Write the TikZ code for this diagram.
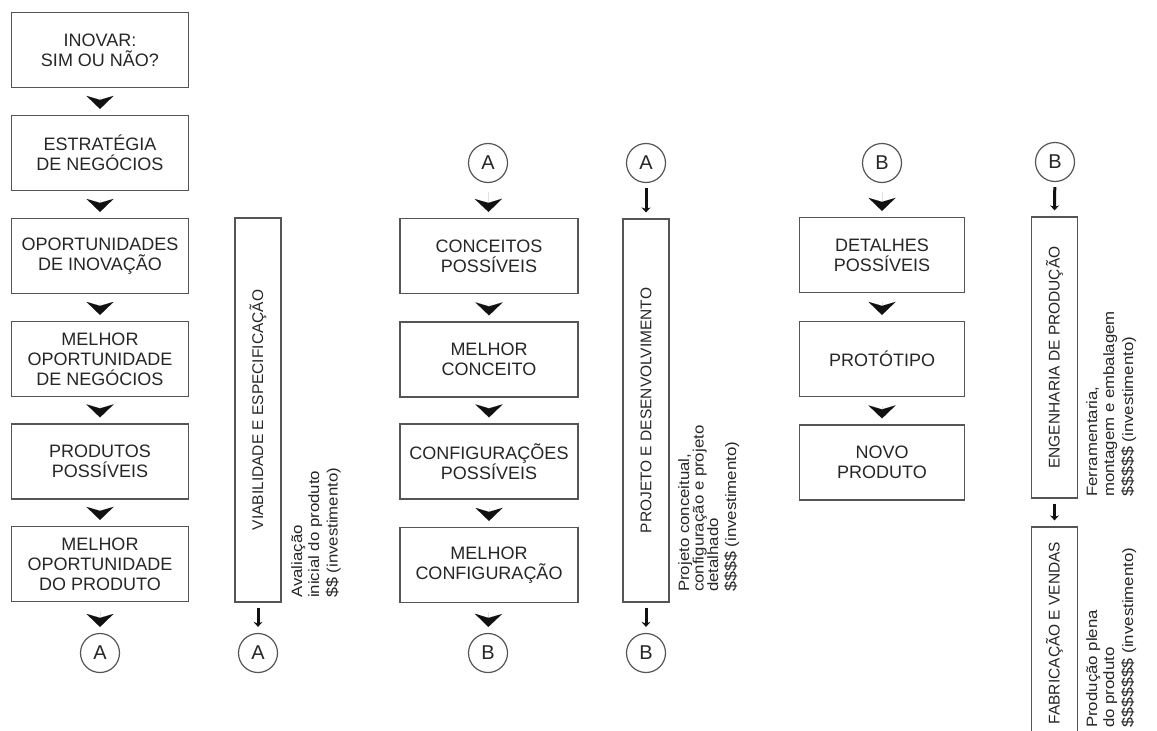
\documentclass[tikz,border=0pt]{standalone}
\usepackage{fontspec}
\setmainfont{Liberation Sans}
\newfontfamily\sidefont[FakeStretch=1.12]{Liberation Sans}
\usetikzlibrary{arrows.meta}
\definecolor{boxc}{HTML}{555555}
\definecolor{txt}{HTML}{262626}
\definecolor{arrc}{HTML}{111111}
\newcommand{\dol}[1]{{\fontsize{16}{15}\selectfont #1}}
\begin{document}
\begin{tikzpicture}[x=1pt,y=-1pt,
  box/.style={draw=boxc, line width=1.2pt, minimum height=75pt, align=center,
    font=\fontsize{18}{20}\selectfont, text=txt, inner sep=0pt},
  tallbox/.style={draw=boxc, line width=1.2pt, rotate=90, minimum height=46pt,
    font=\fontsize{15.5}{18}\selectfont, text=txt, inner sep=0pt},
  talltext/.style={rotate=90, font=\fontsize{15.5}{18}\selectfont, text=txt, inner sep=0pt},
  circ/.style={draw=boxc, line width=1.2pt, circle, minimum size=39pt, inner sep=0pt,
    font=\fontsize{20}{20}\selectfont, text=txt},
  side/.style={rotate=90, anchor=north west, align=left, inner sep=0pt,
    font=\sidefont\fontsize{15}{17}\selectfont, text=txt},
  sidetight/.style={side, font=\sidefont\fontsize{15}{14.5}\selectfont},
  chev/.style={draw=arrc, line width=0.01pt,
    -{Stealth[length=13pt,width=27pt,inset=4pt]}, shorten >=6pt, shorten <=9pt},
  smallarr/.style={draw=arrc, line width=3pt,
    -{Stealth[length=5pt,width=9pt]}, shorten >=6pt, shorten <=5pt}
]
\clip (0,0) rectangle (1157,731);
\fill[white] (0,0) rectangle (1157,731);

% ---------- column 1
\node[box, minimum width=177pt] (b1) at (100,50) {INOVAR:\\SIM OU NÃO?};
\node[box, minimum width=177pt] (b2) at (100,153) {ESTRATÉGIA\\DE NEGÓCIOS};
\node[box, minimum width=177pt] (b3) at (100,256) {OPORTUNIDADES\\DE INOVAÇÃO};
\node[box, minimum width=177pt] (b4) at (100,359) {MELHOR\\OPORTUNIDADE\\DE NEGÓCIOS};
\node[box, minimum width=177pt] (b5) at (100,461.5) {PRODUTOS\\POSSÍVEIS};
\node[box, minimum width=177pt] (b6) at (100,564) {MELHOR\\OPORTUNIDADE\\DO PRODUTO};
\node[circ] (a1) at (100,653) {A};
\draw[chev] (b1) -- (b2);
\draw[chev] (b2) -- (b3);
\draw[chev] (b3) -- (b4);
\draw[chev] (b4) -- (b5);
\draw[chev] (b5) -- (b6);
\draw[chev] (b6) -- (a1);

% ---------- column 2
\node[tallbox, minimum width=384pt] (v) at (258,410) {VIABILIDADE E ESPECIFICAÇÃO};
\node[circ] (a2) at (258,653) {A};
\draw[smallarr] (v.west) -- (a2);
\node[side] (tv) at (291,598) {Avaliação\\inicial do produto\\[1.5pt]\dol{\$\$} (investimento)};

% ---------- column 3
\node[circ] (a3) at (488,163) {A};
\node[box, minimum width=178pt] (c1) at (489,256) {CONCEITOS\\POSSÍVEIS};
\node[box, minimum width=178pt] (c2) at (489,359.5) {MELHOR\\CONCEITO};
\node[box, minimum width=178pt] (c3) at (489,461.5) {CONFIGURAÇÕES\\POSSÍVEIS};
\node[box, minimum width=178pt] (c4) at (489,565) {MELHOR\\CONFIGURAÇÃO};
\node[circ] (bb3) at (488,653) {B};
\draw[chev] (a3) -- (c1);
\draw[chev] (c1) -- (c2);
\draw[chev] (c2) -- (c3);
\draw[chev] (c3) -- (c4);
\draw[chev] (c4) -- (bb3);

% ---------- column 3b
\node[circ] (a4) at (646,163) {A};
\node[tallbox, minimum width=383pt] (p) at (646,410.5) {PROJETO E DESENVOLVIMENTO};
\node[circ] (bb4) at (646,653) {B};
\draw[smallarr] (a4) -- (p.east);
\draw[smallarr] (p.west) -- (bb4);
\node[sidetight] (tp) at (678,592) {Projeto conceitual,\\configuração e projeto\\detalhado\\[3.5pt]\dol{\$\$\$\$} (investimento)};

% ---------- column 4
\node[circ] (bb5) at (882,163) {B};
\node[box, minimum width=165pt] (d1) at (882,255) {DETALHES\\POSSÍVEIS};
\node[box, minimum width=165pt] (d2) at (882,359) {PROTÓTIPO};
\node[box, minimum width=165pt] (d3) at (882,462.5) {NOVO\\PRODUTO};
\draw[chev] (bb5) -- (d1);
\draw[chev] (d1) -- (d2);
\draw[chev] (d2) -- (d3);

% ---------- column 5
\node[circ] (bb6) at (1055,162) {B};
\node[tallbox, minimum width=281pt] (e) at (1054.5,357.5) {ENGENHARIA DE PRODUÇÃO};
\node[tallbox, minimum width=250pt] (f) at (1054.5,652) {};
\node[talltext] (ft) at (1054.5,633) {FABRICAÇÃO E VENDAS};
\draw[smallarr] (bb6) -- (e.east);
\draw[smallarr] (e.west) -- (f.east);
\node[side] (te) at (1086,497) {Ferramentaria,\\montagem e embalagem\\[2pt]\dol{\$\$\$\$\$} (investimento)};
\node[side] (tf) at (1086,728) {Produção plena\\do produto\\[2pt]\dol{\$\$\$\$\$\$\$} (investimento)};
\end{tikzpicture}
\end{document}
